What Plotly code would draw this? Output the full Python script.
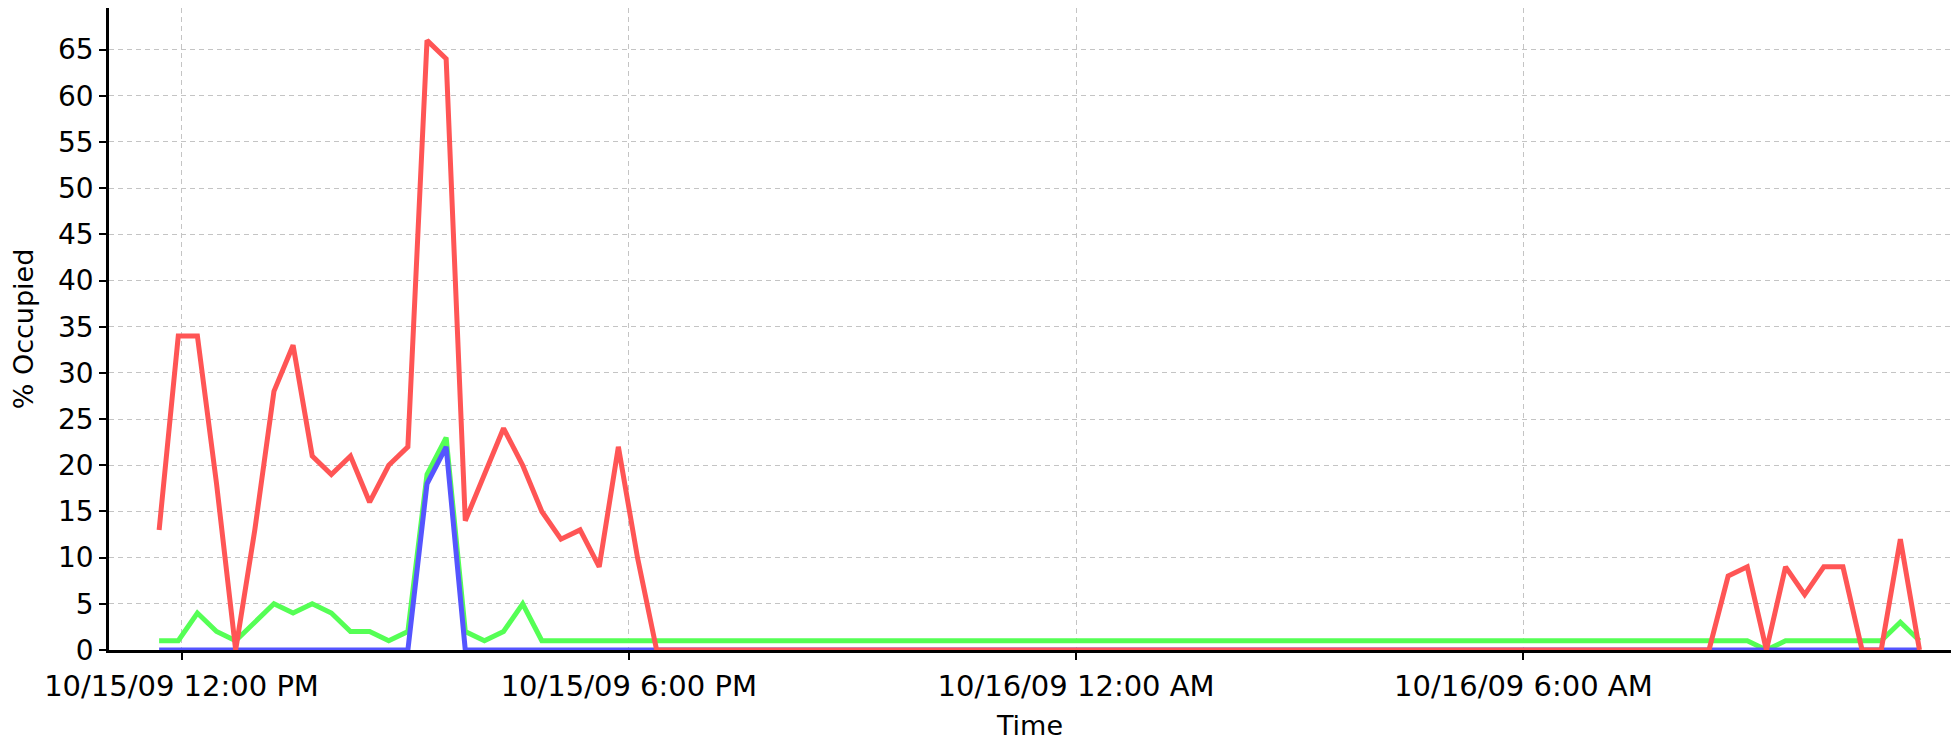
import pandas as pd
import plotly.graph_objects as go

# sample times (one reading every ~15.4 minutes)
start_time = "2009-10-15 11:42:00"
n_points = 93
sample_step = "924s"

red_vals = [13, 34, 34, 18, 0, 13, 28, 33, 21, 19, 21, 16, 20, 22,
            66, 64, 14, 19, 24, 20, 15, 12, 13, 9, 22, 10,
            0, 0, 0, 0, 0, 0, 0, 0, 0, 0, 0, 0, 0, 0, 0, 0, 0, 0, 0, 0,
            0, 0, 0, 0, 0, 0, 0, 0, 0, 0, 0, 0, 0, 0, 0, 0, 0, 0, 0, 0,
            0, 0, 0, 0, 0, 0, 0, 0, 0, 0, 0, 0, 0, 0, 0, 0,
            8, 9, 0, 9, 6, 9, 9, 0, 0, 12, 0]

green_vals = [1, 1, 4, 2, 1, 3, 5, 4, 5, 4, 2, 2, 1, 2, 19, 23, 2, 1, 2, 5,
              1, 1, 1, 1, 1, 1, 1, 1, 1, 1, 1, 1, 1, 1, 1, 1, 1, 1, 1, 1,
              1, 1, 1, 1, 1, 1, 1, 1, 1, 1, 1, 1, 1, 1, 1, 1, 1, 1, 1, 1,
              1, 1, 1, 1, 1, 1, 1, 1, 1, 1, 1, 1, 1, 1, 1, 1, 1, 1, 1, 1,
              1, 1, 1, 1,
              0, 1, 1, 1, 1, 1, 1, 3, 1]

blue_vals = [0, 0, 0, 0, 0, 0, 0, 0, 0, 0, 0, 0, 0, 0,
             18, 22,
             0, 0, 0, 0, 0, 0, 0, 0, 0, 0, 0, 0, 0, 0, 0, 0, 0, 0, 0, 0,
             0, 0, 0, 0, 0, 0, 0, 0, 0, 0, 0, 0, 0, 0, 0, 0, 0, 0, 0, 0,
             0, 0, 0, 0, 0, 0, 0, 0, 0, 0, 0, 0, 0, 0, 0, 0, 0, 0, 0, 0,
             0, 0, 0, 0, 0, 0, 0, 0, 0, 0, 0, 0, 0, 0, 0, 0, 0]

tick_times = ["2009-10-15 12:00", "2009-10-15 18:00",
              "2009-10-16 00:00", "2009-10-16 06:00"]
tick_labels = ["10/15/09 12:00 PM", "10/15/09 6:00 PM",
               "10/16/09 12:00 AM", "10/16/09 6:00 AM"]
y_ticks = list(range(0, 70, 5))

times = pd.date_range(start_time, periods=n_points, freq=sample_step)

fig = go.Figure()

# green under blue under red
series = [
    ("Series 2", green_vals, "#55FF55"),
    ("Series 3", blue_vals, "#5555FF"),
    ("Series 1", red_vals, "#FF5555"),
]
for name, vals, col in series:
    fig.add_trace(go.Scatter(
        x=times, y=vals, mode="lines", name=name,
        line=dict(color=col, width=5),
        showlegend=False
    ))

xtick_font = dict(family="DejaVu Sans", size=29, color="black")
ytick_font = dict(family="DejaVu Sans", size=28, color="black")
title_font = dict(family="DejaVu Sans", size=27, color="black")

# page body has an 8px margin, so the figure is 8px smaller each way
fig.update_layout(
    width=1951, height=733,
    margin=dict(l=101, r=8, t=0, b=91),
    plot_bgcolor="white",
    paper_bgcolor="white",
    font=ytick_font,
    xaxis=dict(
        range=["2009-10-15 11:01:39", "2009-10-16 11:44:10"],
        tickvals=tick_times,
        ticktext=tick_labels,
        ticks="outside", ticklen=7, tickwidth=2, tickcolor="black",
        showline=True, linecolor="black", linewidth=2.5,
        showgrid=True, gridcolor="#c4c4c4", gridwidth=1, griddash="5px,4px",
        zeroline=False,
        tickfont=xtick_font,
        ticklabelstandoff=1,
        title=dict(text="Time", font=title_font, standoff=18),
    ),
    yaxis=dict(
        range=[0, 69.5],
        tickvals=y_ticks,
        ticks="outside", ticklen=7, tickwidth=2, tickcolor="black",
        showline=True, linecolor="black", linewidth=2.5,
        showgrid=True, gridcolor="#c4c4c4", gridwidth=1, griddash="5px,4px",
        zeroline=False,
        tickfont=ytick_font,
        title=dict(text="% Occupied", font=title_font, standoff=18),
    ),
)

fig.write_html("out.html")
